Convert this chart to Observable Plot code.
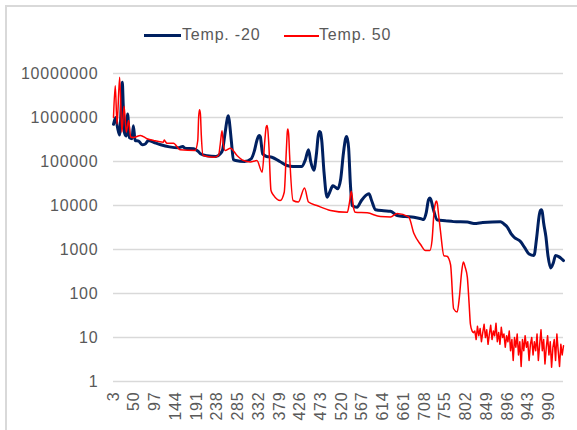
<!DOCTYPE html>
<html>
<head>
<meta charset="utf-8">
<script src="https://cdn.jsdelivr.net/npm/d3@7"></script>
<script src="https://cdn.jsdelivr.net/npm/@observablehq/plot@0.6"></script>
<style>
  html, body { margin: 0; padding: 0; background: #fff; }
  #wrap { position: relative; width: 577px; height: 430px; overflow: hidden; font-family: "Liberation Sans", Arial, sans-serif; }
  #frame { position: absolute; left: 5px; top: 5px; width: 600px; height: 440px; border-top: 2px solid #d9d9d9; border-left: 2px solid #d9d9d9; box-sizing: border-box; }
  #legend { position: absolute; left: 0; top: 0; width: 577px; height: 55px; }
  .sw { position: absolute; top: 34px; height: 3px; }
  .lt { position: absolute; top: 25px; font-size: 16px; letter-spacing: 0.8px; color: #595959; line-height: 20px; white-space: nowrap; }
  #chart { position: absolute; left: 0; top: 55px; }
</style>
</head>
<body>
<div id="wrap">
  <div id="frame"></div>
  <div id="legend">
    <div class="sw" style="left:144px;width:37px;background:#002060;height:3px;top:34px"></div>
    <div class="lt" style="left:182px">Temp. -20</div>
    <div class="sw" style="left:284px;width:35px;background:#ff0000;height:2px;top:35px"></div>
    <div class="lt" style="left:319px">Temp. 50</div>
  </div>
  <div id="chart"></div>
</div>
<script>
const xTicks = [3,50,97,144,191,238,285,332,379,426,473,520,567,614,661,708,755,802,849,896,943,990];
const yTicks = [1,10,100,1000,10000,100000,1000000,10000000];

const blueX = [3,8,12,17,21,23,25,28,32,35,39,45,48,52,60,68,75,82,95,110,130,150,160,165,185,195,200,215,235,245,250,256,261,263,265,270,275,280,300,315,322,328,332,334,336,338,341,350,362,380,396,410,430,438,445,450,457,463,467,470,472,475,480,487,493,500,506,511,518,524,529,531,533,536,540,544,555,565,575,582,588,597,615,631,646,665,684,700,706,712,717,720,722,727,737,755,774,805,820,840,880,888,896,904,911,926,935,945,956,962,968,971,973,975,978,983,988,994,1000,1005,1013,1018,1023];
const blueY = [700000,1000000,600000,400000,2500000,6300000,2000000,450000,380000,1200000,350000,330000,650000,300000,290000,240000,250000,300000,270000,240000,215000,205000,220000,200000,195000,170000,150000,135000,130000,150000,180000,450000,950000,1100000,900000,300000,110000,105000,100000,115000,170000,300000,380000,390000,360000,250000,150000,130000,125000,100000,81000,77000,77000,110000,185000,100000,63000,150000,380000,480000,460000,300000,60000,15500,20000,28000,26000,24000,40000,150000,330000,370000,330000,200000,30000,10000,9100,13000,17000,18500,13000,8000,7600,7400,5900,5600,5400,5000,4800,7000,13500,14800,14000,9000,4700,4500,4300,4200,3900,4100,4300,3800,3200,2300,1900,1500,1100,790,730,1800,6000,7800,8000,7000,4000,2000,700,380,500,730,680,620,560];

const redX = [3,7,11,17,22,27,32,37,42,48,64,79,94,116,118,121,124,139,154,188,194,196,198,200,202,206,230,241,245,249,252,256,268,283,298,313,328,340,346,349,351,353,355,360,366,381,390,395,397,398,400,402,410,422,436,445,464,495,533,538,542,547,551,578,608,631,646,672,684,699,710,720,725,730,733,735,737,740,744,752,759,767,774,782,787,792,796,800,805,809,812,816,819];
const redY = [1000000,5300000,700000,8200000,460000,1800000,460000,850000,360000,350000,390000,330000,300000,275000,310000,280000,260000,260000,185000,178000,300000,1000000,1500000,1200000,400000,137000,125000,137000,250000,500000,250000,178000,200000,137000,105000,98000,105000,57000,300000,600000,660000,500000,250000,22000,17000,13000,20000,200000,480000,550000,420000,150000,13000,12000,25000,12000,10000,7700,7000,12000,21000,9000,7000,6800,5600,5500,6600,5500,2300,1300,950,950,1600,8000,11500,12600,11000,6000,2700,720,700,450,45,38,83,300,520,400,235,60,20,14,13];

const noiseX = [822,825,828,831,834,837,840,843,846,849,852,855,858,861,864,867,870,873,876,879,882,885,888,891,894,897,900,903,906,909,912,915,918,921,924,927,930,933,936,939,942,945,948,951,954,957,960,963,966,969,972,975,978,981,984,987,990,993,996,999,1002,1005,1008,1011,1014,1017,1020,1023];
const noiseY = [14,9,18,11,16,8,13,20,10,15,7,12,19,9,14,11,21,8,13,7,17,10,12,6,11,8,14,5,9,3,10,6,12,4,8,2.2,9,5,11,6,8,3,7,10,4,8,5,12,3,7,15,5,9,2.5,6,11,4,8,2.1,6,9,3,12,5,2.2,7,4,6.5];

const blue = blueX.map((x, i) => ({x, y: blueY[i]}));
const redMain = redX.map((x, i) => ({x, y: redY[i]}));
const redNoise = [redMain[redMain.length - 1]].concat(noiseX.map((x, i) => ({x, y: noiseY[i]})));

const chart = Plot.plot({
  width: 577,
  height: 375,
  marginTop: 18,
  marginBottom: 49,
  marginLeft: 113,
  marginRight: 14,
  style: { fontFamily: "Liberation Sans, Arial, sans-serif", letterSpacing: "0.8px", background: "transparent", overflow: "visible" },
  x: { type: "linear", domain: [3, 1023], label: null },
  y: { type: "log", domain: [1, 10000000], label: null },
  marks: [
    Plot.ruleY(yTicks, { stroke: "#d9d9d9", strokeWidth: 1.5 }),
    Plot.axisY({ ticks: yTicks, tickFormat: d3.format("d"), tickSize: 0, tickPadding: 15, fontSize: 16, fill: "#595959", label: null }),
    Plot.axisX({ ticks: xTicks, tickFormat: d3.format("d"), tickRotate: -90, tickSize: 0, tickPadding: 10, fontSize: 16, fill: "#595959", label: null }),
    Plot.line(blue, { x: "x", y: "y", stroke: "#002060", strokeWidth: 3, strokeLinejoin: "round", curve: "monotone-x" }),
    Plot.line(redMain, { x: "x", y: "y", stroke: "#ff0000", strokeWidth: 1.5, strokeLinejoin: "round", curve: "monotone-x" }),
    Plot.line(redNoise, { x: "x", y: "y", stroke: "#ff0000", strokeWidth: 1.5, strokeLinejoin: "round" })
  ]
});
document.getElementById("chart").appendChild(chart);
</script>
</body>
</html>
